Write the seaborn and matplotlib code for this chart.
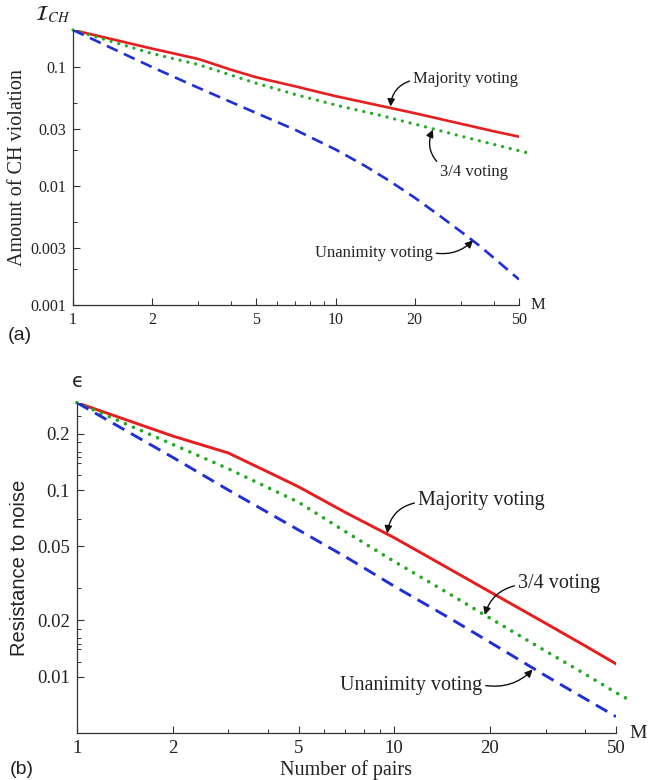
import numpy as np
import pandas as pd
import matplotlib
matplotlib.use("Agg")
import matplotlib.pyplot as plt
import matplotlib.ticker as mticker
import seaborn as sns

# ---------------- data ----------------
# Panel (a): amount of CH violation
m_a_major = [1, 2, 3, 4, 5, 7, 10, 15, 20, 30, 40, 50]
ich_majority = [0.205, 0.143, 0.117, 0.095, 0.082, 0.069, 0.057, 0.047, 0.041, 0.0334, 0.0289, 0.026]
m_a_34 = [1, 2, 3, 5, 7, 10, 15, 20, 30, 40, 50, 55]
ich_34 = [0.205, 0.130, 0.105, 0.073, 0.059, 0.048, 0.039, 0.0332, 0.0263, 0.0224, 0.0198, 0.0188]
m_a_unan = [1, 2, 3, 5, 7, 10, 13, 16, 20, 25, 30, 35, 40, 45, 50]
ich_unan = [0.205, 0.100, 0.067, 0.041, 0.0298, 0.0203, 0.0147, 0.0111, 0.0080, 0.0056,
            0.00415, 0.0032, 0.0025, 0.0020, 0.00164]

# Panel (b): resistance to noise
m_b_major = [1, 2, 3, 4, 5, 7, 10, 15, 20, 30, 40, 50]
eps_majority = [0.294, 0.195, 0.158, 0.125, 0.104, 0.076, 0.0555, 0.0376, 0.0285, 0.0193, 0.0146, 0.0117]
m_b_34 = [1, 2, 3, 5, 7, 10, 15, 20, 30, 40, 50, 55]
eps_34 = [0.294, 0.176, 0.130, 0.086, 0.060, 0.0414, 0.0276, 0.0206, 0.0137, 0.0103, 0.0082, 0.0075]
m_b_unan = [1, 2, 3, 5, 7, 10, 15, 20, 30, 40, 50]
eps_unan = [0.294, 0.150, 0.100, 0.061, 0.044, 0.0305, 0.0205, 0.0153, 0.0101, 0.0076, 0.0061]

x_ticks = [1, 2, 5, 10, 20, 50]
x_minor = [3, 4, 6, 7, 8, 9, 30, 40]
ya_ticks = [0.001, 0.003, 0.01, 0.03, 0.1]
ya_minor = [0.002, 0.005, 0.02, 0.05]
yb_ticks = [0.01, 0.02, 0.05, 0.1, 0.2]
yb_minor = [0.012, 0.014, 0.015, 0.016, 0.018, 0.03, 0.07, 0.12, 0.14, 0.15, 0.16, 0.18, 0.25]

labels = ["Majority voting", "3/4 voting", "Unanimity voting"]

# ---------------- style ----------------
sns.set_theme(style="ticks")
plt.rcParams["font.family"] = ["Liberation Serif", "DejaVu Serif"]
plt.rcParams["mathtext.fontset"] = "stix"
plt.rcParams["axes.linewidth"] = 0.9
plt.rcParams["axes.edgecolor"] = "#333333"

RED = "#e61e1e"
GREEN = "#22aa22"
BLUE = "#1f2fd6"
TXT = "#222222"

fig = plt.figure(figsize=(6.48, 7.80), dpi=100)
ax_a = fig.add_axes([73 / 648, 1 - 305 / 780, 446 / 648, 275 / 780])
ax_b = fig.add_axes([77 / 648, 1 - 732.7 / 780, 539 / 648, 330 / 780])


def draw(ax, series, lw):
    (mx, my), (gx, gy), (bx, by) = series
    sns.lineplot(x=mx, y=my, ax=ax, color=RED, lw=lw, estimator=None, sort=False)
    sns.lineplot(x=gx, y=gy, ax=ax, color=GREEN, lw=lw * 1.25, estimator=None, sort=False)
    sns.lineplot(x=bx, y=by, ax=ax, color=BLUE, lw=lw, estimator=None, sort=False)
    lines = ax.get_lines()
    lines[1].set_linestyle((0, (0.01, 2.4)))
    lines[1].set_dash_capstyle("round")
    lines[1].set_clip_on(False)
    lines[2].set_linestyle((0, (4.5, 2.6)))


def style_axes(ax, yticks, yminor, ylim, fs):
    ax.set_xscale("log")
    ax.set_yscale("log")
    ax.set_xlim(1, 50)
    ax.set_ylim(*ylim)
    sns.despine(ax=ax)
    ax.xaxis.set_major_locator(mticker.FixedLocator(x_ticks))
    ax.xaxis.set_minor_locator(mticker.FixedLocator(x_minor))
    ax.xaxis.set_major_formatter(mticker.FixedFormatter([str(v) for v in x_ticks]))
    ax.xaxis.set_minor_formatter(mticker.NullFormatter())
    ax.yaxis.set_major_locator(mticker.FixedLocator(yticks))
    ax.yaxis.set_minor_locator(mticker.FixedLocator(yminor))
    ax.yaxis.set_major_formatter(mticker.FixedFormatter([f"{v:g}" for v in yticks]))
    ax.yaxis.set_minor_formatter(mticker.NullFormatter())
    ax.tick_params(which="major", direction="in", length=5, width=0.8, labelsize=fs,
                   color="#333333", labelcolor=TXT, pad=5)
    ax.tick_params(which="minor", direction="in", length=3, width=0.7, color="#333333")
    ax.set_xlabel("")
    ax.set_ylabel("")


# ---------------- panel (a) ----------------
draw(ax_a, [(m_a_major, ich_majority), (m_a_34, ich_34), (m_a_unan, ich_unan)], 1.9)
style_axes(ax_a, ya_ticks, ya_minor, (0.001, 0.205), 11.5)
ax_a.set_ylabel("Amount of CH violation", fontsize=14.5, color=TXT, labelpad=2)
fig.text(70 / 648, 1 - 15 / 780, r"$\mathcal{I}_{CH}$", ha="right", va="center",
         fontsize=15, color=TXT)
fig.text(538 / 648, 1 - 305 / 780, "M", ha="center", va="center", fontsize=12, color=TXT)
fig.text(8 / 648, 1 - 336 / 780, "(a)", ha="left", va="center", fontsize=14,
         family="Liberation Sans", color=TXT)

arrow = dict(arrowstyle="-|>", color="#111111", lw=1.0, mutation_scale=11, shrinkA=0, shrinkB=0)
fs_a = 12
ax_a.annotate(labels[0], xy=(16.2, 0.0466), xytext=(19.7, 0.079), ha="left", va="center",
              fontsize=fs_a, color=TXT,
              arrowprops=dict(arrow, connectionstyle="arc3,rad=0.35", relpos=(0, 0.45)))
ax_a.annotate(labels[1], xy=(23.5, 0.0298), xytext=(25, 0.0131), ha="left", va="center",
              fontsize=fs_a, color=TXT,
              arrowprops=dict(arrow, connectionstyle="arc3,rad=-0.35", relpos=(0, 0.95)))
ax_a.annotate(labels[2], xy=(33.4, 0.0035), xytext=(23.5, 0.00273), ha="right", va="center",
              fontsize=fs_a, color=TXT,
              arrowprops=dict(arrow, connectionstyle="arc3,rad=0.25", relpos=(1.02, 0.5)))

# ---------------- panel (b) ----------------
draw(ax_b, [(m_b_major, eps_majority), (m_b_34, eps_34), (m_b_unan, eps_unan)], 2.1)
style_axes(ax_b, yb_ticks, yb_minor, (0.005, 0.294), 13.5)
ax_b.set_ylabel("Resistance to noise", fontsize=14.5, family="Liberation Sans",
                color=TXT, labelpad=6)
fig.text(346.5 / 648, 1 - 770 / 780, "Number of pairs", ha="center", va="center",
         fontsize=14.5, color=TXT)
fig.text(77.5 / 648, 1 - 381 / 780, "\u03f5", ha="center", va="center",
         fontsize=14, family="DejaVu Sans", color=TXT)
fig.text(638 / 648, 1 - 733 / 780, "M", ha="center", va="center", fontsize=14, color=TXT)
fig.text(10 / 648, 1 - 770 / 780, "(b)", ha="left", va="center", fontsize=14,
         family="Liberation Sans", color=TXT)

fs_b = 14.5
ax_b.annotate(labels[0], xy=(9.5, 0.0586), xytext=(11.85, 0.0877), ha="left", va="center",
              fontsize=fs_b, color=TXT,
              arrowprops=dict(arrow, connectionstyle="arc3,rad=0.35", relpos=(-0.01, 0.4)))
ax_b.annotate(labels[1], xy=(19.3, 0.0214), xytext=(24.5, 0.0316), ha="left", va="center",
              fontsize=fs_b, color=TXT,
              arrowprops=dict(arrow, connectionstyle="arc3,rad=0.3", relpos=(-0.01, 0.4)))
ax_b.annotate(labels[2], xy=(27.3, 0.0109), xytext=(18.97, 0.00895), ha="right", va="center",
              fontsize=fs_b, color=TXT,
              arrowprops=dict(arrow, connectionstyle="arc3,rad=0.25", relpos=(1.02, 0.5)))

fig.savefig("out.png", dpi=100, facecolor="white")
